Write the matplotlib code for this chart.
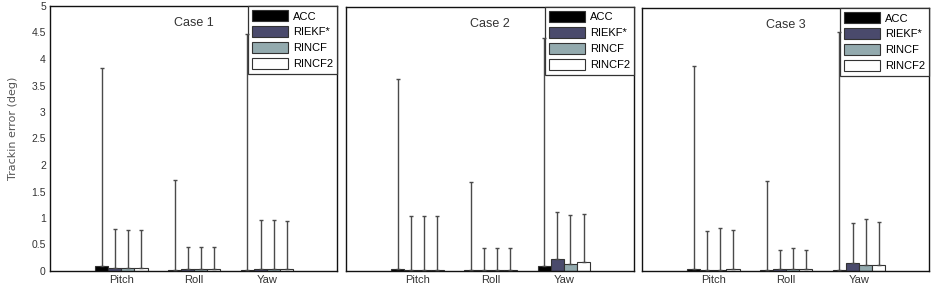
import matplotlib.pyplot as plt
import numpy as np

plt.rcParams['font.family'] = ['Liberation Sans', 'DejaVu Sans']

axes_names = ['Pitch', 'Roll', 'Yaw']
methods = ['ACC', 'RIEKF*', 'RINCF', 'RINCF2']
colors = ['#000000', '#4a4a6c', '#93aaae', '#ffffff']
cases = ['Case 1', 'Case 2', 'Case 3']

# mean tracking error per case: rows = methods, cols = Pitch/Roll/Yaw
means_case1 = [[0.10, 0.02, 0.02],
               [0.05, 0.03, 0.04],
               [0.05, 0.04, 0.04],
               [0.05, 0.04, 0.04]]
tops_case1 = [[3.83, 1.72, 4.48],
              [0.79, 0.45, 0.96],
              [0.78, 0.46, 0.96],
              [0.78, 0.45, 0.95]]

means_case2 = [[0.03, 0.01, 0.10],
               [0.01, 0.01, 0.23],
               [0.01, 0.01, 0.14],
               [0.01, 0.01, 0.17]]
tops_case2 = [[3.63, 1.68, 4.42],
              [1.05, 0.43, 1.11],
              [1.04, 0.43, 1.06],
              [1.04, 0.43, 1.08]]

means_case3 = [[0.04, 0.02, 0.02],
               [0.01, 0.04, 0.15],
               [0.02, 0.04, 0.12],
               [0.04, 0.04, 0.12]]
tops_case3 = [[3.89, 1.72, 4.54],
              [0.76, 0.39, 0.91],
              [0.81, 0.43, 0.99],
              [0.78, 0.40, 0.94]]

all_means = [means_case1, means_case2, means_case3]
all_tops = [tops_case1, tops_case2, tops_case3]

fig = plt.figure(figsize=(9.41, 2.88), dpi=100)
lefts = [50, 346, 642]
widths = [287, 288, 287]
tops_px = [6, 7, 8]
bottom_px = 271

x = np.arange(1, 4)
w = 0.18

for k in range(3):
    ax = fig.add_axes([lefts[k] / 941, (288 - bottom_px) / 288,
                       widths[k] / 941, (bottom_px - tops_px[k]) / 288])
    m = np.array(all_means[k])
    t = np.array(all_tops[k])
    for i in range(4):
        xi = x + (i - 1.5) * w
        ax.bar(xi, m[i], width=w, color=colors[i], edgecolor='#333333',
               linewidth=0.8, label=methods[i], zorder=2)
        ax.errorbar(xi, m[i], yerr=[np.zeros(3), t[i] - m[i]], fmt='none',
                    ecolor='#4a4a4a', elinewidth=1.0, capsize=1.5,
                    capthick=1.0, zorder=6)
    ax.set_xlim(0.02, 3.96)
    ax.set_ylim(0, 5)
    ax.set_xticks(x)
    ax.set_xticklabels(axes_names, fontsize=8, color='#333333')
    ax.set_yticks(np.arange(0, 5.01, 0.5))
    ax.set_yticklabels(['0', '0.5', '1', '1.5', '2', '2.5', '3', '3.5', '4', '4.5', '5'],
                       fontsize=7.5, color='#333333')
    ax.tick_params(length=0, pad=3)
    if k > 0:
        ax.tick_params(labelleft=False)
    for s in ax.spines.values():
        s.set_linewidth(1.0)
        s.set_color('#111111')
    ax.text(0.5, 0.935, cases[k], transform=ax.transAxes, ha='center',
            va='center', fontsize=9, color='#333333')
    leg = ax.legend(loc='upper right', borderaxespad=0, fontsize=8,
                    handlelength=3.2, handleheight=1.15, labelspacing=0.42,
                    handletextpad=0.45, borderpad=0.38, fancybox=False,
                    framealpha=1, edgecolor='#333333')
    leg.get_frame().set_linewidth(0.9)
    if k == 0:
        ax.set_ylabel('Trackin error (deg)', fontsize=8, color='#555555',
                      family='DejaVu Sans')
        ax.yaxis.set_label_coords(-0.111, 0.54)

fig.savefig('out.png', dpi=100)
